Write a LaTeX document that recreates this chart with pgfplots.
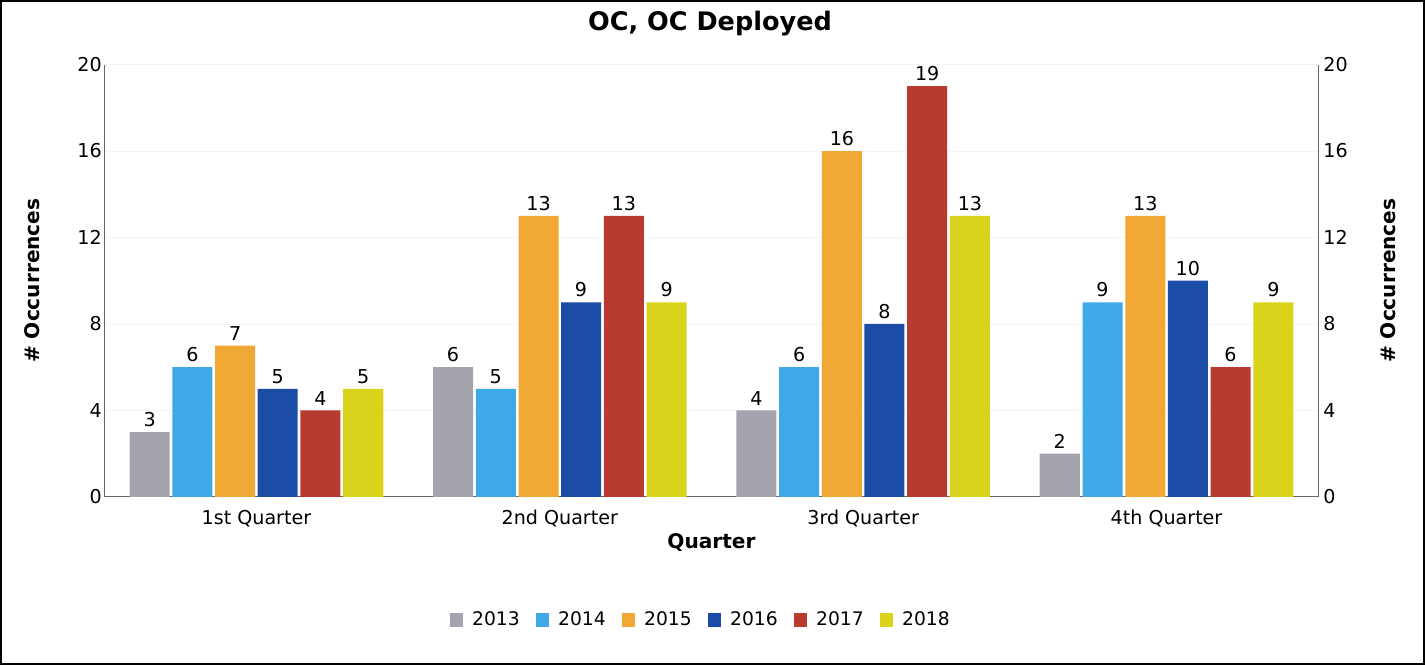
\documentclass[border=0pt]{standalone}
\usepackage{pgfplots}
\pgfplotsset{compat=1.18}
\usepackage{fontspec}
\setmainfont{DejaVu Sans}
\definecolor{c13}{HTML}{A4A4AE}
\definecolor{c14}{HTML}{3DA9E6}
\definecolor{c15}{HTML}{F1A733}
\definecolor{c16}{HTML}{1C4DA6}
\definecolor{c17}{HTML}{B83B31}
\definecolor{c18}{HTML}{D9D31C}
\begin{document}
\begin{tikzpicture}
\draw[line width=1.2pt] (2.5pt,-1.5pt) rectangle (710pt,-331pt);
\node[font=\fontsize{12.7}{15}\selectfont\bfseries] at (355pt,-12.5pt) {OC, OC Deployed};
\begin{axis}[
  at={(54pt,-248pt)}, anchor=south west,
  scale only axis, width=603.5pt, height=215pt,
  xmin=-0.5, xmax=3.5, ymin=0, ymax=20,
  axis x line*=bottom, axis y line*=left,
  axis line style={gray!80!black, line width=0.5pt},
  xtick={0,1,2,3},
  xticklabels={1st Quarter,2nd Quarter,3rd Quarter,4th Quarter},
  ytick={0,4,8,12,16,20},
  major tick length=0pt,
  ymajorgrids, grid style={gray!8, line width=0.4pt},
  /pgf/number format/assume math mode=true,
  tick label style={font=\fontsize{9.5}{11}\selectfont},
  yticklabel style={xshift=2pt},
  xticklabel style={yshift=-3pt},
  xlabel={Quarter}, xlabel style={font=\fontsize{10}{12}\selectfont\bfseries, at={(axis description cs:0.5,-0.105)}, anchor=center},
  ylabel={\# Occurrences}, ylabel style={font=\fontsize{10}{12}\selectfont\bfseries, at={(axis description cs:-0.06,0.5)}, anchor=center},
  ybar, bar width=0.132,
  nodes near coords,
  every node near coord/.append style={font=\fontsize{9.5}{11}\selectfont, text=black, yshift=-1pt},
  legend style={at={(axis description cs:0.492,-0.285)}, anchor=center, draw=none, legend columns=6, font=\fontsize{9.3}{11}\selectfont, column sep=0pt,
    /tikz/every odd column/.append style={column sep=2.5pt},
    /tikz/every even column/.append style={column sep=6pt}},
  legend image code/.code={\fill[#1,draw=none] (0pt,-3.3pt) rectangle (6.6pt,3.3pt);},
]
\addplot[fill=c13, draw=none, bar shift=-0.352] coordinates {(0,3) (1,6) (2,4) (3,2)};
\addplot[fill=c14, draw=none, bar shift=-0.211] coordinates {(0,6) (1,5) (2,6) (3,9)};
\addplot[fill=c15, draw=none, bar shift=-0.070] coordinates {(0,7) (1,13) (2,16) (3,13)};
\addplot[fill=c16, draw=none, bar shift=0.070] coordinates {(0,5) (1,9) (2,8) (3,10)};
\addplot[fill=c17, draw=none, bar shift=0.211] coordinates {(0,4) (1,13) (2,19) (3,6)};
\addplot[fill=c18, draw=none, bar shift=0.352] coordinates {(0,5) (1,9) (2,13) (3,9)};
\legend{2013,2014,2015,2016,2017,2018}
\end{axis}
\begin{axis}[
  at={(54pt,-248pt)}, anchor=south west,
  scale only axis, width=603.5pt, height=215pt,
  xmin=-0.5, xmax=3.5, ymin=0, ymax=20,
  axis x line=none, axis y line*=right,
  axis line style={gray!80!black, line width=0.5pt},
  ytick={0,4,8,12,16,20},
  major tick length=0pt,
  /pgf/number format/assume math mode=true,
  tick label style={font=\fontsize{9.5}{11}\selectfont},
  yticklabel style={xshift=-1pt},
  ylabel={\# Occurrences}, ylabel style={font=\fontsize{10}{12}\selectfont\bfseries, at={(axis description cs:1.058,0.5)}, anchor=center},
]
\end{axis}
\end{tikzpicture}
\end{document}
